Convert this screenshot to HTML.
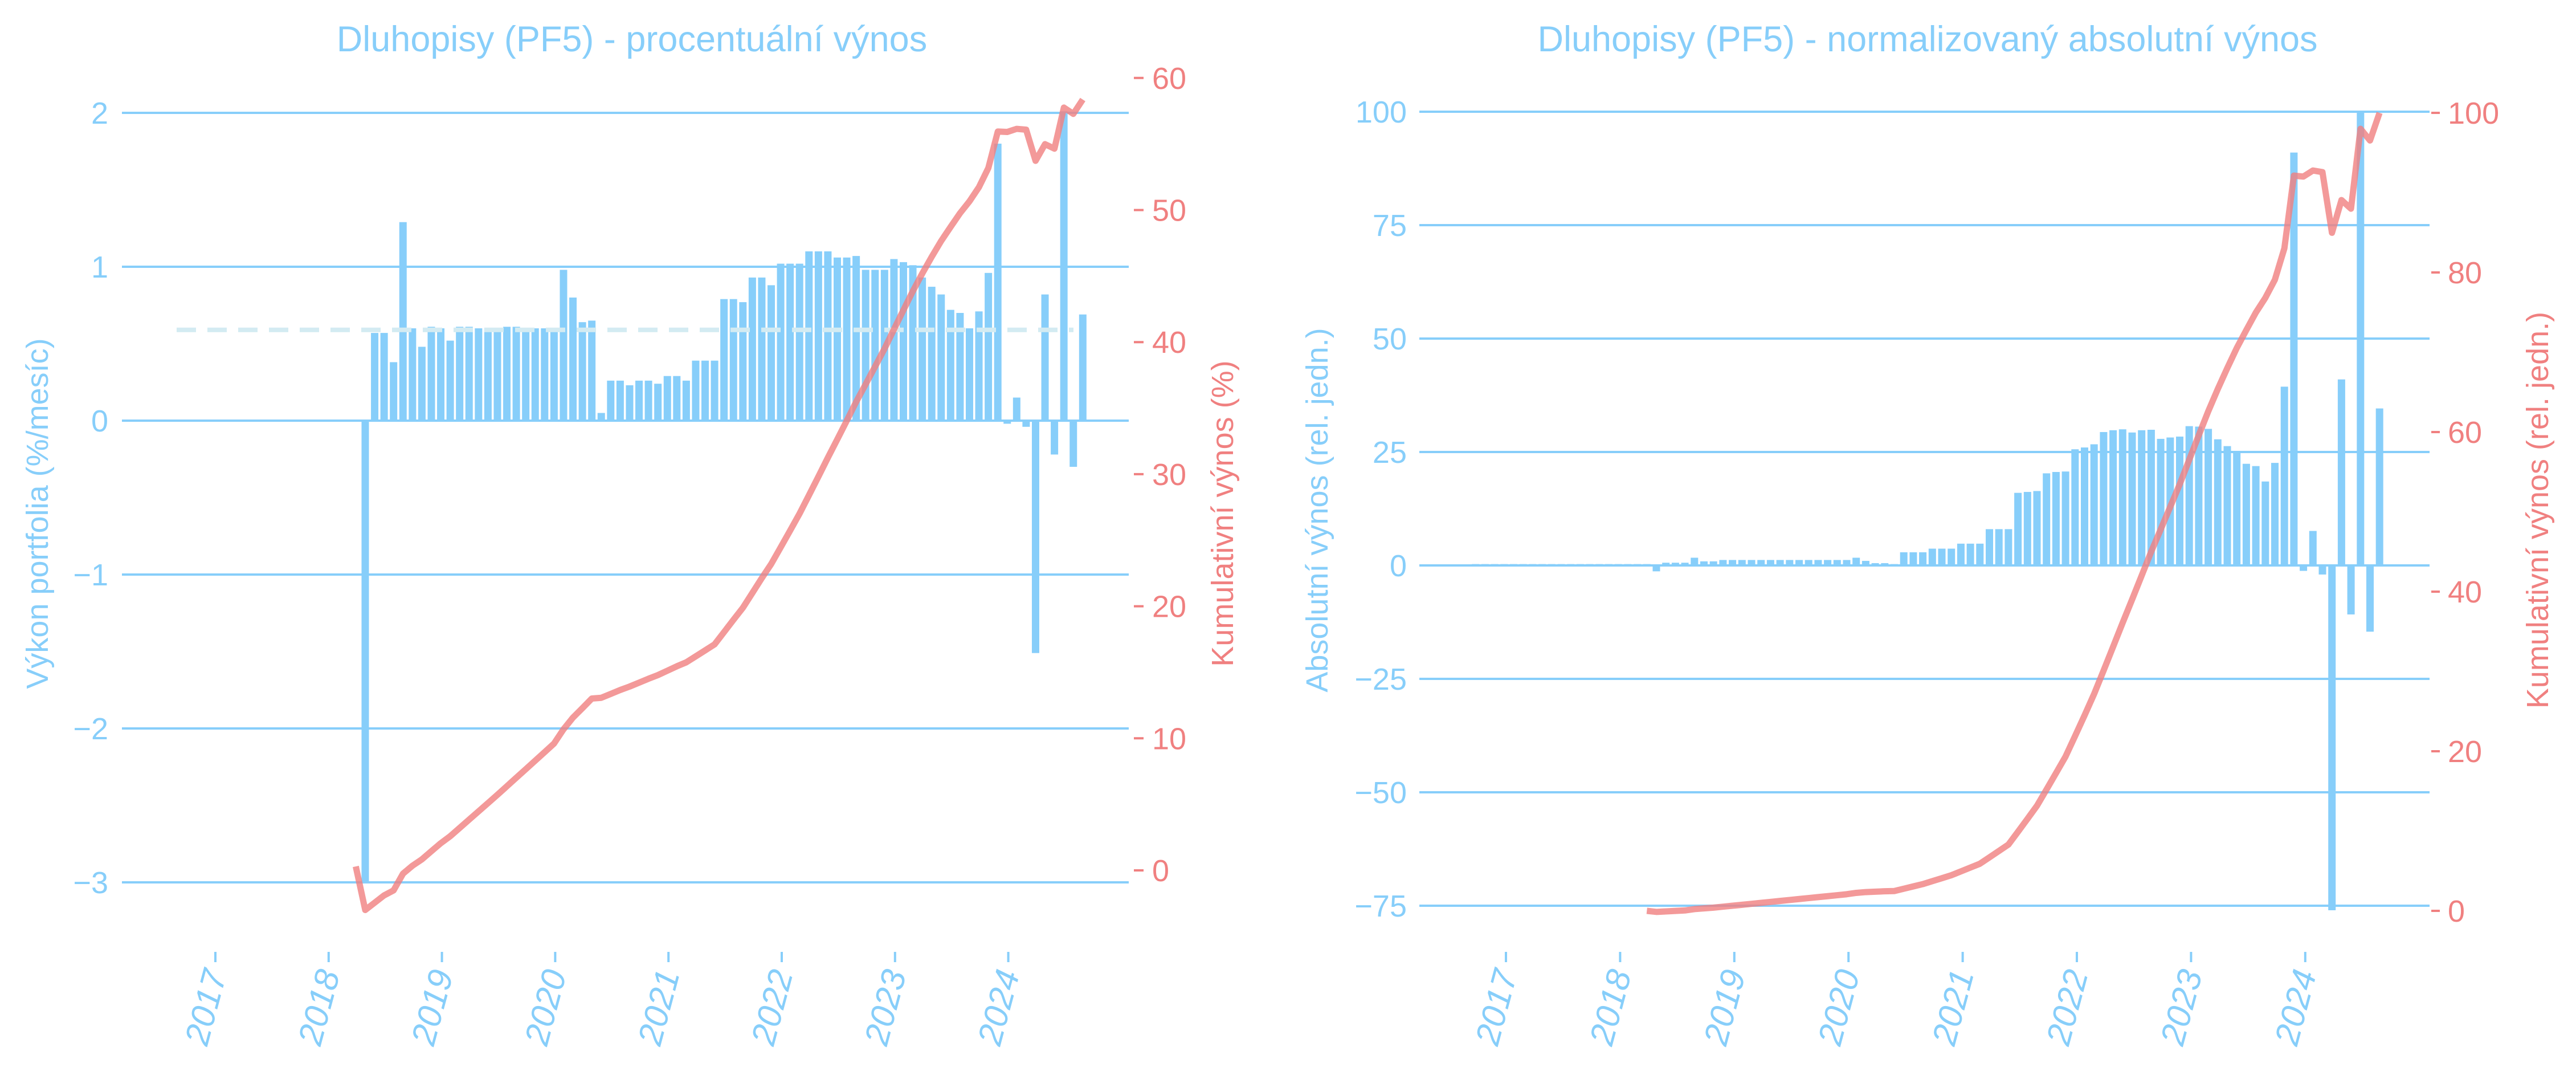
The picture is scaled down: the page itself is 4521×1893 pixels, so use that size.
<!DOCTYPE html>
<html><head><meta charset="utf-8"><style>
html,body{margin:0;padding:0;background:#fff;}
svg{display:block;font-family:"Liberation Sans",Arial,sans-serif;}
</style></head><body>
<svg id="s" width="4521" height="1893" xmlns="http://www.w3.org/2000/svg"></svg>
<script>
const B="#87cefa",R="#f08080",RL="rgba(240,128,128,0.8)";
let o="";
function T(x,y,t,sz,col,anc,extra){o+=`<text x="${x}" y="${y}" font-size="${sz}" fill="${col}" text-anchor="${anc||'middle'}" ${extra||''}>${t}</text>`;}
const L=[-3.0,.57,.57,.38,1.29,.60,.48,.61,.60,.52,.61,.61,.60,.60,.60,.61,.61,.60,.60,.60,.60,.98,.80,.64,.65,.05,.26,.26,.23,.26,.26,.24,.29,.29,.26,.39,.39,.39,.79,.79,.77,.93,.93,.88,1.02,1.02,1.02,1.10,1.10,1.10,1.06,1.06,1.07,.98,.98,.98,1.05,1.03,1.01,.93,.87,.82,.72,.70,.60,.71,.96,1.80,-.02,.15,-.04,-1.51,.82,-.22,2.01,-.30,.69];
const A=[-1.3,.6,.6,.6,1.7,.9,.9,1.2,1.2,1.2,1.2,1.2,1.2,1.2,1.2,1.2,1.2,1.2,1.2,1.2,1.2,1.7,1.0,.5,.5,.3,2.9,2.9,2.9,3.7,3.7,3.7,4.8,4.8,4.8,8.0,8.0,8.0,16.0,16.2,16.4,20.3,20.6,20.7,25.6,26.0,26.7,29.4,29.8,30.0,29.3,29.8,29.9,27.9,28.2,28.4,30.7,30.6,30.1,27.8,26.3,25.2,22.4,21.9,18.5,22.6,39.4,91.0,-1.2,7.6,-2.0,-76,41,-10.8,100,-14.6,34.6];
// ---------- LEFT ----------
{
const x0=214,x1=1981,y0=738,py=270;
const yr=v=>y0-v*py;
T(1109,90,"Dluhopisy (PF5) - procentuální výnos",63,B);
[2,1,0,-1,-2,-3].forEach(v=>{o+=`<line x1="${x0}" x2="${x1}" y1="${yr(v)}" y2="${yr(v)}" stroke="${B}" stroke-width="4"/>`;T(190,yr(v)+19,v<0?"−"+(-v):v,54,B,"end");});
const ry=v=>1527-v*23.17;
[0,10,20,30,40,50,60].forEach(v=>{o+=`<line x1="1990" x2="2007" y1="${ry(v)}" y2="${ry(v)}" stroke="${R}" stroke-width="4"/>`;T(2022,ry(v)+19,v,54,R,"start");});
const ys=[2017,2018,2019,2020,2021,2022,2023,2024];
ys.forEach((y,i)=>{const x=378+i*198.8;o+=`<line x1="${x}" x2="${x}" y1="1670" y2="1688" stroke="${B}" stroke-width="4"/>`;T(x+20,1708,y,60,B,"end",`transform="rotate(-75 ${x+20} 1708)" font-style="italic"`);});
const mx=i=>641+i*16.57;
L.forEach((v,i)=>{const y=Math.min(yr(v),y0),h=Math.abs(v)*py;o+=`<rect x="${mx(i)-6.5}" y="${y}" width="13" height="${h}" fill="${B}"/>`;});
o+=`<line x1="310" x2="1884" y1="${yr(0.59)}" y2="${yr(0.59)}" stroke="#d3ebf2" stroke-width="8" stroke-dasharray="34,20"/>`;
let c=1,pts=[`${mx(-1)},${ry(0.3)}`];
L.forEach((v,i)=>{c*=1+v/100;pts.push(`${mx(i)},${ry((c-1)*100)}`);});
o+=`<polyline points="${pts.join(' ')}" fill="none" stroke="${RL}" stroke-width="11" stroke-linejoin="round"/>`;
T(0,0,"Výkon portfolia (%/mesíc)",54,B,"middle",`transform="translate(84 901) rotate(-90)"`);
T(0,0,"Kumulativní výnos (%)",54,R,"middle",`transform="translate(2164 901) rotate(-90)"`);
}
// ---------- RIGHT ----------
{
const x0=2491,x1=4264,y0=992,py=7.96;
const yr=v=>y0-v*py;
T(3383,90,"Dluhopisy (PF5) - normalizovaný absolutní výnos",63,B);
[100,75,50,25,0,-25,-50,-75].forEach(v=>{o+=`<line x1="${x0}" x2="${x1}" y1="${yr(v)}" y2="${yr(v)}" stroke="${B}" stroke-width="4"/>`;T(2469,yr(v)+19,v<0?"−"+(-v):v,54,B,"end");});
const ry=v=>1598-v*14.0;
[0,20,40,60,80,100].forEach(v=>{o+=`<line x1="4267" x2="4282" y1="${ry(v)}" y2="${ry(v)}" stroke="${R}" stroke-width="4"/>`;T(4296,ry(v)+19,v,54,R,"start");});
const ys=[2017,2018,2019,2020,2021,2022,2023,2024];
ys.forEach((y,i)=>{const x=2643+i*200.4;o+=`<line x1="${x}" x2="${x}" y1="1670" y2="1688" stroke="${B}" stroke-width="4"/>`;T(x+20,1708,y,60,B,"end",`transform="rotate(-75 ${x+20} 1708)" font-style="italic"`);});
const mx=i=>2907+i*16.7;
for(let k=1;k<=19;k++){o+=`<rect x="${mx(-k)-6.5}" y="${yr(0.3)}" width="13" height="${0.3*py}" fill="${B}"/>`;}
A.forEach((v,i)=>{const y=Math.min(yr(v),y0),h=Math.abs(v)*py;o+=`<rect x="${mx(i)-6.5}" y="${y}" width="13" height="${Math.max(h,2)}" fill="${B}"/>`;});
let tot=A.reduce((a,b)=>a+b,0),c=0,pts=[`${mx(-1)},${ry(0)}`];
A.forEach((v,i)=>{c+=v;pts.push(`${mx(i)},${ry(c/tot*100)}`);});
o+=`<polyline points="${pts.join(' ')}" fill="none" stroke="${RL}" stroke-width="11" stroke-linejoin="round"/>`;
T(0,0,"Absolutní výnos (rel. jedn.)",54,B,"middle",`transform="translate(2330 895) rotate(-90)"`);
T(0,0,"Kumulativní výnos (rel. jedn.)",54,R,"middle",`transform="translate(4472 895) rotate(-90)"`);
}
document.getElementById("s").innerHTML=o;
</script>
</body></html>
